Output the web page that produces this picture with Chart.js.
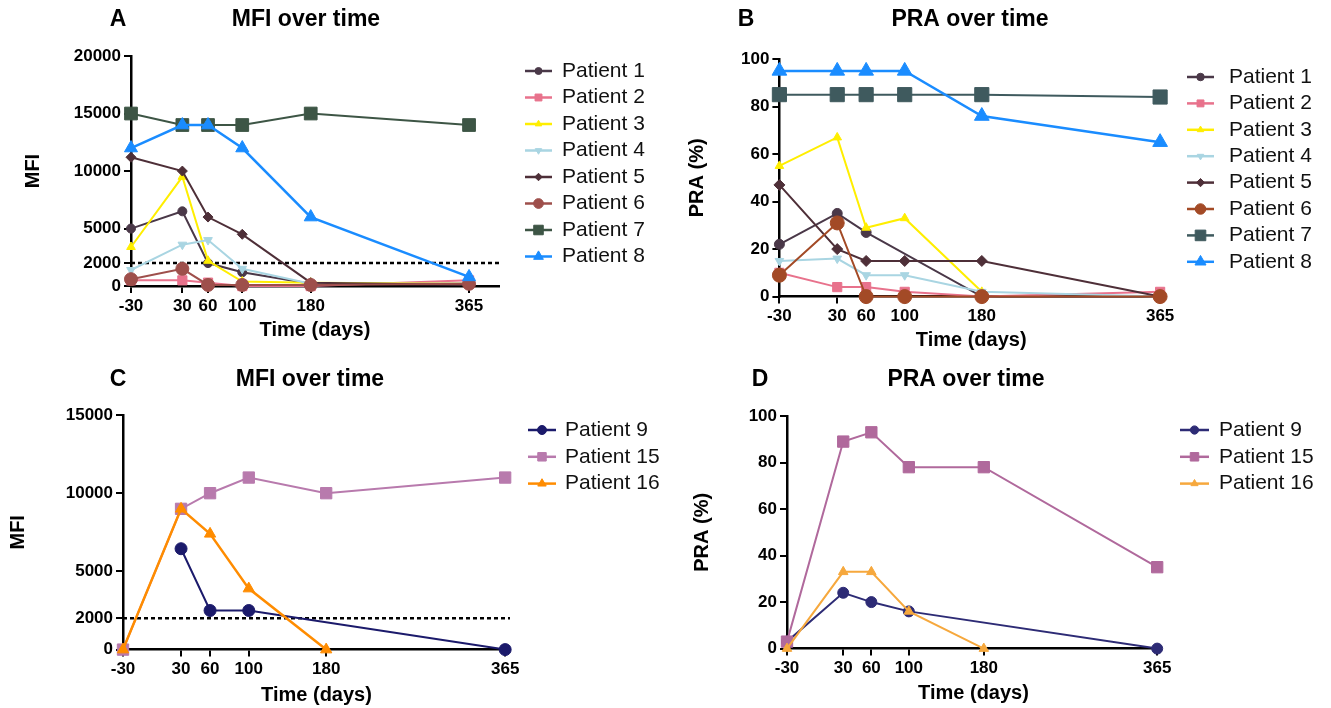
<!DOCTYPE html>
<html>
<head>
<meta charset="utf-8">
<script src="https://cdn.jsdelivr.net/npm/chart.js@4.4.1/dist/chart.umd.min.js"></script>
<style>
  html, body { margin: 0; padding: 0; background: #fff; }
  #wrap { position: relative; width: 1331px; height: 708px; overflow: hidden; background: #fff; }
  canvas { position: absolute; }
</style>
</head>
<body>
<div id="wrap">
  <canvas id="cA" width="665" height="354" style="left:0;top:0"></canvas>
  <canvas id="cB" width="666" height="354" style="left:665px;top:0"></canvas>
  <canvas id="cC" width="665" height="354" style="left:0;top:354px"></canvas>
  <canvas id="cD" width="666" height="354" style="left:665px;top:354px"></canvas>
</div>
<script>
// ---------------- DATA ----------------
const days = [-30, 30, 60, 100, 180, 365];
const mfiTicksA = [0, 2000, 5000, 10000, 15000, 20000];
const mfiTicksC = [0, 2000, 5000, 10000, 15000];
const praTicks = [0, 20, 40, 60, 80, 100];
const mfiThreshold = 2000;

// Panel A: MFI over time (patients 1-8)
const mfiA_p1 = [5000, 6500, 2000, 1200, 200, 200];
const mfiA_p2 = [500, 500, 300, 0, 0, 500];
const mfiA_p3 = [3400, 9500, 2200, 400, 300, 200];
const mfiA_p4 = [1400, 3600, 4000, 1500, 200, 200];
const mfiA_p5 = [11200, 10000, 6000, 4500, 300, 100];
const mfiA_p6 = [600, 1500, 100, 100, 100, 200];
const mfiA_p7 = [15000, 14000, 14000, 14000, 15000, 14000];
const mfiA_p8 = [12000, 14000, 14000, 12000, 6000, 800];

// Panel B: PRA over time (patients 1-8)
const praB_p1 = [22, 35, 27, null, 0, 0];
const praB_p2 = [10, 4, 4, 2, 0, 2];
const praB_p3 = [55, 67, 29, 33, 2, null];
const praB_p4 = [15, 16, 9, 9, 2, 0];
const praB_p5 = [47, 20, 15, 15, 15, 0];
const praB_p6 = [9, 31, 0, 0, 0, 0];
const praB_p7 = [85, 85, 85, 85, 85, 84];
const praB_p8 = [95, 95, 95, 95, 76, 65];

// Panel C: MFI over time (patients 9, 15, 16)
const mfiC_p9 = [null, 6450, 2500, 2500, null, 0];
const mfiC_p15 = [0, 9000, 10000, 11000, 10000, 11000];
const mfiC_p16 = [0, 9000, 7400, 3900, 0, null];

// Panel D: PRA over time (patients 9, 15, 16)
const praD_p9 = [3, 24, 20, 16, null, 0];
const praD_p15 = [3, 89, 93, 78, 78, 35];
const praD_p16 = [0, 33, 33, 16, 0, null];

// ---------------- HELPERS ----------------
const FONT = '"Liberation Sans", Arial, Helvetica, sans-serif';
const pts = arr => days.map((d, i) => ({x: d, y: arr[i]}));

function series(label, arr, color, style, radius, extra) {
  return Object.assign({
    label: label,
    data: pts(arr),
    borderColor: color,
    backgroundColor: color,
    pointBackgroundColor: color,
    pointBorderColor: color,
    borderWidth: 2,
    pointStyle: style,
    pointRadius: radius,
    pointBorderWidth: 1,
    spanGaps: true,
    tension: 0,
    clip: false
  }, extra || {});
}

function thresholdLine() {
  return {
    label: 'threshold',
    noLegend: true,
    data: [{x: -30, y: mfiThreshold}, {x: 1000, y: mfiThreshold}],
    borderColor: '#000',
    borderWidth: 2.5,
    borderDash: [4, 3],
    pointRadius: 0,
    clip: true,
    order: 50
  };
}

const textPlugin = {
  id: 'panelText',
  afterDraw(chart, args, opts) {
    const ctx = chart.ctx;
    ctx.save();
    (opts.items || []).forEach(it => {
      ctx.font = it.font;
      ctx.fillStyle = '#000';
      ctx.textAlign = 'center';
      ctx.textBaseline = 'middle';
      ctx.fillText(it.text, it.x, it.y);
    });
    ctx.restore();
  }
};

const legendPlugin = {
  id: 'sideLegend',
  afterDraw(chart, args, o) {
    const ctx = chart.ctx;
    ctx.save();
    let row = 0;
    chart.data.datasets.forEach(ds => {
      if (ds.noLegend) return;
      const y = o.y + row * o.rowHeight;
      ctx.strokeStyle = ds.borderColor;
      ctx.lineWidth = 2.5;
      ctx.setLineDash([]);
      ctx.beginPath();
      ctx.moveTo(o.x, y);
      ctx.lineTo(o.x + o.lineLength, y);
      ctx.stroke();
      ctx.fillStyle = ds.pointBackgroundColor;
      ctx.strokeStyle = ds.pointBorderColor;
      ctx.lineWidth = 1;
      Chart.helpers.drawPoint(ctx, {
        pointStyle: ds.pointStyle,
        rotation: ds.pointRotation || 0,
        radius: Math.max(3.5, ds.pointRadius * 0.75),
        borderWidth: 1
      }, o.x + o.lineLength / 2, y);
      ctx.font = o.font;
      ctx.fillStyle = '#111';
      ctx.textAlign = 'left';
      ctx.textBaseline = 'middle';
      ctx.fillText(ds.label, o.x + o.textOffset, y);
      row++;
    });
    ctx.restore();
  }
};

function makeChart(id, cfg) {
  const yTicks = cfg.yTicks;
  const datasets = cfg.datasets.map((d, i) => {
    if (d.order === undefined) d.order = -i;
    return d;
  });
  return new Chart(document.getElementById(id), {
    type: 'line',
    data: {datasets: datasets},
    plugins: [textPlugin, legendPlugin],
    options: {
      responsive: false,
      animation: false,
      devicePixelRatio: 1,
      layout: {padding: cfg.padding},
      plugins: {
        legend: {display: false},
        tooltip: {enabled: false},
        panelText: {items: cfg.texts},
        sideLegend: cfg.legend
      },
      scales: {
        x: {
          type: 'linear',
          min: -30,
          max: cfg.xMax,
          afterBuildTicks: s => { s.ticks = days.map(v => ({value: v})); },
          afterFit: s => { s.height = cfg.xH; },
          ticks: {
            autoSkip: false, maxRotation: 0, minRotation: 0,
            color: '#000', padding: 3,
            font: {family: FONT, size: 17, weight: 'bold'},
            callback: v => String(v)
          },
          grid: {display: true, drawOnChartArea: false, drawTicks: true, tickLength: 7, color: '#000', lineWidth: 2},
          border: {display: true, color: '#000', width: 2.5},
          title: {display: true, text: 'Time (days)', color: '#000', padding: 0,
                  font: {family: FONT, size: 20, weight: 'bold'}}
        },
        y: {
          type: 'linear',
          min: 0,
          max: yTicks[yTicks.length - 1],
          afterBuildTicks: s => { s.ticks = yTicks.map(v => ({value: v})); },
          afterFit: s => { s.width = cfg.yW; },
          ticks: {
            color: '#000', padding: 3,
            font: {family: FONT, size: 17, weight: 'bold'},
            callback: v => String(v)
          },
          grid: {display: true, drawOnChartArea: false, drawTicks: true, tickLength: 7, color: '#000', lineWidth: 2},
          border: {display: true, color: '#000', width: 2.5},
          title: {display: true, text: cfg.yTitle, color: '#000', padding: 0,
                  font: {family: FONT, size: 20, weight: 'bold'}}
        }
      }
    }
  });
}

const titleFont = 'bold 23px ' + FONT;
const legendFont = '21px ' + FONT;

// ---------------- PANEL A ----------------
makeChart('cA', {
  yTicks: mfiTicksA, xMax: 400, yW: 110, xH: 55.9, yTitle: 'MFI',
  padding: {left: 21, right: 166, top: 56, bottom: 12},
  texts: [
    {text: 'A', x: 118, y: 20, font: titleFont},
    {text: 'MFI over time', x: 306, y: 20, font: titleFont}
  ],
  legend: {x: 525, y: 71, rowHeight: 26.5, lineLength: 27, textOffset: 37, font: legendFont},
  datasets: [
    series('Patient 1', mfiA_p1, '#4a3848', 'circle', 4.5),
    series('Patient 2', mfiA_p2, '#e8728c', 'rect', 6.5),
    series('Patient 3', mfiA_p3, '#ffee00', 'triangle', 5),
    series('Patient 4', mfiA_p4, '#a9d5e2', 'triangle', 5, {pointRotation: 180}),
    series('Patient 5', mfiA_p5, '#4e2f38', 'rectRot', 5),
    series('Patient 6', mfiA_p6, '#9e4f4b', 'circle', 6.5),
    series('Patient 7', mfiA_p7, '#3d5545', 'rect', 9),
    series('Patient 8', mfiA_p8, '#1a8cff', 'triangle', 7.5, {borderWidth: 2.5}),
    thresholdLine()
  ]
});

// ---------------- PANEL B ----------------
makeChart('cB', {
  yTicks: praTicks, xMax: 368, yW: 94.4, xH: 55.4, yTitle: 'PRA (%)',
  padding: {left: 20, right: 168, top: 59, bottom: 2},
  texts: [
    {text: 'B', x: 81, y: 20, font: titleFont},
    {text: 'PRA over time', x: 305, y: 20, font: titleFont}
  ],
  legend: {x: 522, y: 77, rowHeight: 26.4, lineLength: 27, textOffset: 42, font: legendFont},
  datasets: [
    series('Patient 1', praB_p1, '#4a3848', 'circle', 5),
    series('Patient 2', praB_p2, '#e8728c', 'rect', 6.5),
    series('Patient 3', praB_p3, '#ffee00', 'triangle', 5),
    series('Patient 4', praB_p4, '#a9d5e2', 'triangle', 5, {pointRotation: 180}),
    series('Patient 5', praB_p5, '#4e2f38', 'rectRot', 5.5),
    series('Patient 6', praB_p6, '#a34a26', 'circle', 7),
    series('Patient 7', praB_p7, '#3f5a5e', 'rect', 10),
    series('Patient 8', praB_p8, '#1a8cff', 'triangle', 8.5, {borderWidth: 2.5})
  ]
});

// ---------------- PANEL C ----------------
makeChart('cC', {
  yTicks: mfiTicksC, xMax: 370, yW: 116.4, xH: 57.4, yTitle: 'MFI',
  padding: {left: 6.6, right: 155, top: 61, bottom: 1},
  texts: [
    {text: 'C', x: 118, y: 26, font: titleFont},
    {text: 'MFI over time', x: 310, y: 26, font: titleFont}
  ],
  legend: {x: 528, y: 76, rowHeight: 26.8, lineLength: 28, textOffset: 37, font: legendFont},
  datasets: [
    series('Patient 9', mfiC_p9, '#1b1a6b', 'circle', 6),
    series('Patient 15', mfiC_p15, '#b87aad', 'rect', 8),
    series('Patient 16', mfiC_p16, '#ff8c00', 'triangle', 6.5, {borderWidth: 2.5}),
    thresholdLine()
  ]
});

// ---------------- PANEL D ----------------
makeChart('cD', {
  yTicks: praTicks, xMax: 368, yW: 96.4, xH: 56.4, yTitle: 'PRA (%)',
  padding: {left: 25.6, right: 171, top: 62, bottom: 3},
  texts: [
    {text: 'D', x: 95, y: 26, font: titleFont},
    {text: 'PRA over time', x: 301, y: 26, font: titleFont}
  ],
  legend: {x: 515, y: 76, rowHeight: 26.8, lineLength: 29, textOffset: 39, font: legendFont},
  datasets: [
    series('Patient 9', praD_p9, '#2d2b75', 'circle', 5.5),
    series('Patient 15', praD_p15, '#b0699c', 'rect', 8),
    series('Patient 16', praD_p16, '#f6a83d', 'triangle', 5.5)
  ]
});
</script>
</body>
</html>
